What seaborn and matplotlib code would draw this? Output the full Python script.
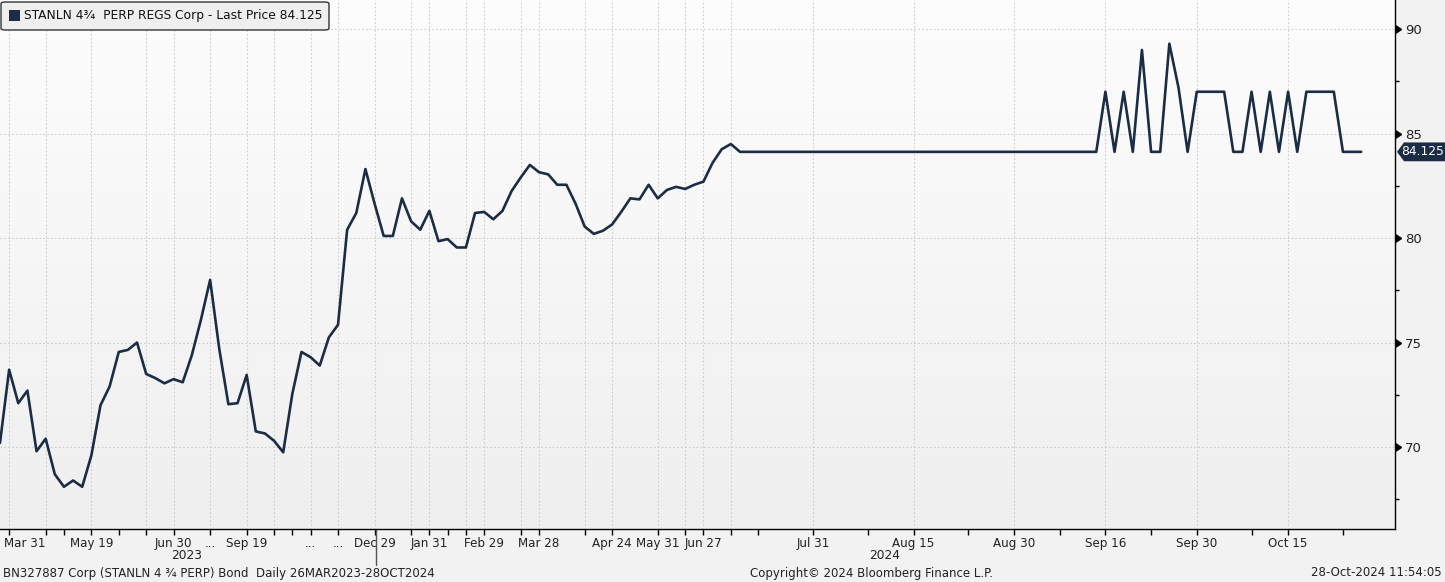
import numpy as np
import pandas as pd
import matplotlib
matplotlib.use('Agg')
import matplotlib.pyplot as plt
import matplotlib.transforms as mtransforms
from matplotlib.colors import LinearSegmentedColormap
from matplotlib.patches import FancyBboxPatch, Rectangle, Polygon
import seaborn as sns

# daily last price, STANLN 4 3/4 PERP (one value per trading point)
prices = [
    70.2, 73.7, 72.1, 72.7, 69.8, 70.4, 68.7, 68.1, 68.4, 68.1,
    69.6, 72.0, 72.9, 74.55, 74.65, 75.0, 73.5, 73.3, 73.05, 73.25,
    73.1, 74.4, 76.1, 78.0, 74.7, 72.05, 72.1, 73.45, 70.75, 70.65,
    70.3, 69.75, 72.55, 74.55, 74.3, 73.9, 75.25, 75.85, 80.4, 81.2,
    83.3, 81.65, 80.1, 80.1, 81.9, 80.8, 80.4, 81.3, 79.85, 79.95,
    79.55, 79.55, 81.2, 81.25, 80.9, 81.3, 82.25, 82.9, 83.5, 83.15,
    83.05, 82.55, 82.55, 81.65, 80.55, 80.2, 80.35, 80.65, 81.25, 81.9,
    81.85, 82.55, 81.9, 82.3, 82.45, 82.35, 82.55, 82.7, 83.6, 84.25,
    84.5, 84.125, 84.125, 84.125, 84.125, 84.125, 84.125, 84.125, 84.125, 84.125,
    84.125, 84.125, 84.125, 84.125, 84.125, 84.125, 84.125, 84.125, 84.125, 84.125,
    84.125, 84.125, 84.125, 84.125, 84.125, 84.125, 84.125, 84.125, 84.125, 84.125,
    84.125, 84.125, 84.125, 84.125, 84.125, 84.125, 84.125, 84.125, 84.125, 84.125,
    84.125, 87.0, 84.125, 87.0, 84.125, 89.0, 84.125, 84.125, 89.3, 87.2,
    84.125, 87.0, 87.0, 87.0, 87.0, 84.125, 84.125, 87.0, 84.125, 87.0,
    84.125, 87.0, 84.125, 87.0, 87.0, 87.0, 87.0, 84.125, 84.125, 84.125,
]
last_price = 84.125

# x axis is point-indexed like the terminal chart
tick_pos = [1, 10, 19, 23, 27, 34, 37, 41, 47, 53, 59, 67, 72, 77, 89, 100, 111, 121, 131, 141]
tick_labels = ['Mar 31', 'May 19', 'Jun 30', '...', 'Sep 19', '...', '...', 'Dec 29', 'Jan 31',
               'Feb 29', 'Mar 28', 'Apr 24', 'May 31', 'Jun 27', 'Jul 31', 'Aug 15', 'Aug 30',
               'Sep 16', 'Sep 30', 'Oct 15']
grid_minor = [5, 16, 30, 45, 51, 57, 64, 75, 80]
tick_minor = [7, 13, 32, 49, 83, 95, 106, 116, 126, 137, 147]
years = ['2023', '2024']
year_pos = [20.4, 96.8]
year_break = 41.2
y_ticks = [70, 75, 80, 85, 90]
y_minor = [67.5, 72.5, 77.5, 82.5, 87.5]

df = pd.DataFrame({'idx': np.arange(len(prices)), 'price': prices})

sns.set_theme(style='white')
plt.rcParams['font.family'] = ['DejaVu Sans']

W, H = 1445, 582
navy = '#1b2d45'
fig = plt.figure(figsize=(W / 100, H / 100), dpi=100)
fig.patch.set_facecolor('#f2f2f2')
ax = fig.add_axes([0, 53 / H, 1395 / W, 529 / H])

# soft vertical gradient behind the plot
grad = LinearSegmentedColormap.from_list('bg', ['#fdfdfd', '#efefef'])
ax.imshow(np.linspace(0, 1, 256).reshape(-1, 1), extent=[0, 1, 0, 1], transform=ax.transAxes,
          cmap=grad, aspect='auto', zorder=0)

for v in y_ticks:
    ax.axhline(v, color='#cccccc', ls=(0, (1.5, 2)), lw=0.8, zorder=1)
for p in tick_pos + grid_minor:
    ax.axvline(p, color='#cccccc', ls=(0, (1.5, 2)), lw=0.8, zorder=1)

sns.lineplot(data=df, x='idx', y='price', color=navy, lw=1.9, ax=ax, zorder=3)

ax.set_xlim(0, 152.7)
ax.set_ylim(66.08, 91.39)
ax.set_xlabel('')
ax.set_ylabel('')

for s in ['top', 'left']:
    ax.spines[s].set_visible(False)
for s in ['bottom', 'right']:
    ax.spines[s].set_color('black')
    ax.spines[s].set_linewidth(1)

ax.set_xticks(tick_pos)
ax.set_xticklabels(tick_labels, fontsize=8.6, color='#222222')
ax.set_xticks(tick_minor + grid_minor, minor=True)
ax.tick_params(axis='x', which='both', direction='out', length=4, width=1, color='black',
               bottom=True, pad=2)
first = ax.get_xticklabels()[0]
first.set_horizontalalignment('left')
first.set_transform(first.get_transform() + mtransforms.ScaledTranslation(-5 / 100, 0, fig.dpi_scale_trans))

ax.yaxis.tick_right()
ax.set_yticks(y_ticks)
ax.set_yticklabels([str(v) for v in y_ticks], fontsize=9.5, color='#222222')
ax.set_yticks(y_minor, minor=True)
ax.tick_params(axis='y', which='major', length=0, pad=7, right=True)
ax.tick_params(axis='y', which='minor', direction='out', length=3, width=1, color='black', right=True)
ax.plot([1] * len(y_ticks), y_ticks, ls='', marker=9, ms=6, color='black',
        transform=ax.get_yaxis_transform(), clip_on=False)

# last price tag on the right axis
tr = mtransforms.blended_transform_factory(fig.transFigure, ax.transData)
h = 0.45
tag = Polygon([(1397 / W, last_price), (1404 / W, last_price + h), (1445 / W, last_price + h),
               (1445 / W, last_price - h), (1404 / W, last_price - h)],
              closed=True, facecolor=navy, edgecolor='none', transform=tr, clip_on=False)
fig.add_artist(tag)
fig.text(1423 / W, 0, f'{last_price:.3f}', transform=tr, color='white', fontsize=8.8,
         ha='center', va='center').set_y(last_price)

# year row and separator
for yr, p in zip(years, year_pos):
    ax.text(p, -0.05, yr, transform=ax.get_xaxis_transform(), ha='center', va='center',
            fontsize=8.8, color='#222222')
ax.plot([year_break, year_break], [0, -0.068], color='#555555', lw=1,
        transform=ax.get_xaxis_transform(), clip_on=False)

# legend box
box = FancyBboxPatch((1 / W, 1 - 30 / H), 328 / W, 28 / H,
                     boxstyle='round,pad=0,rounding_size=0.003', transform=fig.transFigure,
                     facecolor='#efefef', edgecolor='#333333', lw=1)
fig.add_artist(box)
fig.add_artist(Rectangle((9 / W, 1 - 21 / H), 11 / W, 11 / H, transform=fig.transFigure,
                         facecolor=navy, edgecolor='none'))
fig.text(24 / W, 1 - 16 / H, 'STANLN 4¾  PERP REGS Corp - Last Price 84.125',
         fontsize=8.8, va='center', ha='left', color='#111111')

# footer
fig.text(3 / W, 1 - 573 / H, 'BN327887 Corp (STANLN 4 ¾ PERP) Bond  Daily 26MAR2023-28OCT2024',
         fontsize=8.5, va='center', ha='left', color='#222222')
fig.text(872 / W, 1 - 573 / H, 'Copyright© 2024 Bloomberg Finance L.P.',
         fontsize=8.5, va='center', ha='center', color='#222222')
fig.text(1442 / W, 1 - 573 / H, '28-Oct-2024 11:54:05',
         fontsize=8.5, va='center', ha='right', color='#222222')

fig.savefig('out.png', dpi=100, facecolor=fig.get_facecolor())
